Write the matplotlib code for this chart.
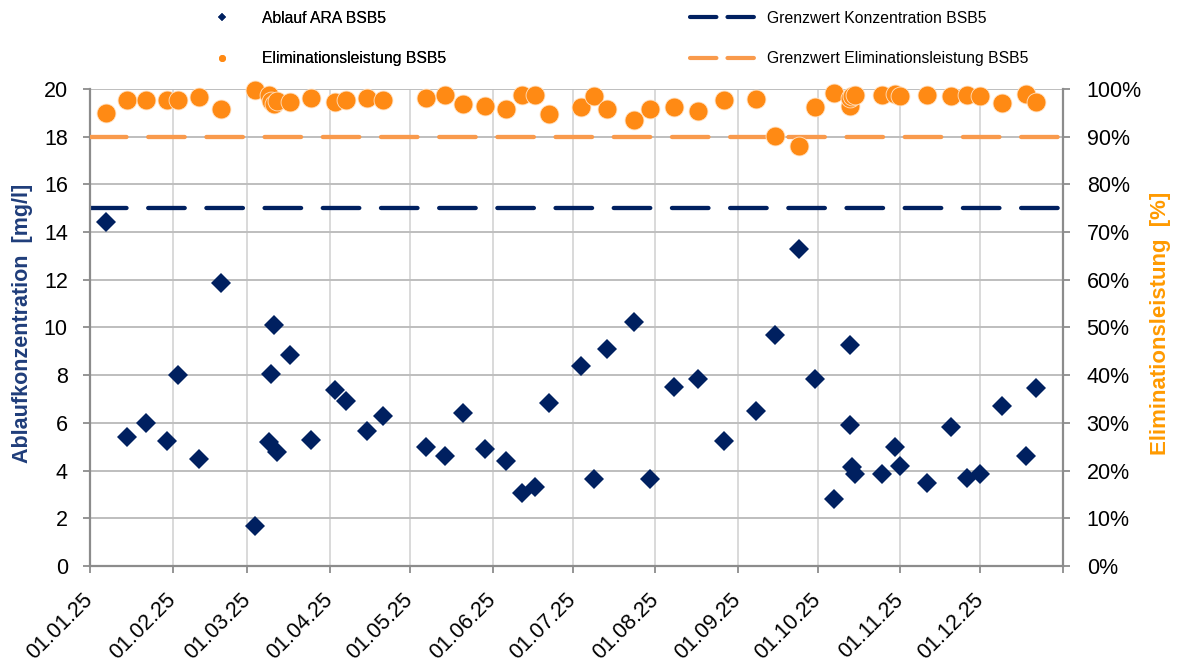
import matplotlib
matplotlib.use("Agg")
import matplotlib.pyplot as plt
import matplotlib.transforms as mtransforms
from matplotlib.lines import Line2D
import pandas as pd

plt.rcParams["font.family"] = ["Liberation Sans", "DejaVu Sans"]
plt.rcParams["lines.scale_dashes"] = False

# Probenahmetage 2025
sample_dates = [
    "2025-01-07", "2025-01-15", "2025-01-22", "2025-01-30", "2025-02-03",
    "2025-02-11", "2025-02-19", "2025-03-04", "2025-03-09", "2025-03-10",
    "2025-03-11", "2025-03-12", "2025-03-17", "2025-03-25", "2025-04-03",
    "2025-04-07", "2025-04-15", "2025-04-21", "2025-05-07", "2025-05-14",
    "2025-05-21", "2025-05-29", "2025-06-06", "2025-06-12", "2025-06-17",
    "2025-06-22", "2025-07-04", "2025-07-09", "2025-07-14", "2025-07-24",
    "2025-07-30", "2025-08-08", "2025-08-17", "2025-08-27", "2025-09-08",
    "2025-09-15", "2025-09-24", "2025-09-30", "2025-10-07", "2025-10-13",
    "2025-10-13", "2025-10-14", "2025-10-15", "2025-10-25", "2025-10-30",
    "2025-11-01", "2025-11-11", "2025-11-20", "2025-11-26", "2025-12-01",
    "2025-12-09", "2025-12-18", "2025-12-22",
]

# Ablaufkonzentration BSB5 [mg/l]
ablauf_bsb5 = [
    14.4, 5.4, 6.0, 5.25, 8.0,
    4.5, 11.85, 1.7, 5.2, 8.05,
    10.1, 4.8, 8.85, 5.3, 7.4,
    6.9, 5.65, 6.3, 5.0, 4.6,
    6.4, 4.9, 4.4, 3.05, 3.3,
    6.85, 8.4, 3.65, 9.1, 10.25,
    3.65, 7.5, 7.85, 5.25, 6.5,
    9.7, 13.3, 7.85, 2.8, 9.25,
    5.9, 4.15, 3.85, 3.85, 5.0,
    4.2, 3.5, 5.85, 3.7, 3.85,
    6.7, 4.6, 7.45,
]

# Eliminationsleistung BSB5 [%]
elimination_bsb5 = [
    95.0, 97.7, 97.7, 97.7, 97.7,
    98.3, 95.8, 99.8, 98.8, 97.4,
    96.8, 97.5, 97.3, 98.0, 97.3,
    97.7, 98.0, 97.7, 98.0, 98.7,
    96.8, 96.4, 95.8, 98.7, 98.7,
    94.7, 96.2, 98.4, 95.7, 93.4,
    95.7, 96.2, 95.4, 97.7, 97.8,
    90.1, 88.1, 96.2, 99.1, 96.4,
    98.0, 98.6, 98.8, 98.7, 98.9,
    98.4, 98.7, 98.4, 98.7, 98.4,
    97.1, 98.9, 97.3,
]

grenzwert_konz = 15.0
grenzwert_elim = 90.0

navy = "#002060"
orange = "#FF8A14"
orange_light = "#F99A4C"
axis_grey = "#8C8C8C"

dates = pd.to_datetime(sample_dates)
x_start = pd.Timestamp("2025-01-01")
x_end = pd.Timestamp("2026-01-01")
month_ticks = pd.date_range(x_start, x_end, freq="MS")
month_labels = [d.strftime("%d.%m.%y") for d in month_ticks[:-1]] + [""]

fig = plt.figure(figsize=(11.78, 6.66), dpi=100)
ax = fig.add_axes([0.0764, 0.150, 0.8260, 0.7166])
ax2 = ax.twinx()

# left axis: concentration
ax.set_xlim(x_start, x_end)
ax.set_ylim(0, 20)
ax.set_yticks(range(0, 21, 2))
ax.set_xticks(month_ticks)
ax.set_xticklabels(month_labels, rotation=45, ha="right", va="center",
                   rotation_mode="anchor", fontsize=15.5)
shift = mtransforms.ScaledTranslation(5 / 100, 0, fig.dpi_scale_trans)
for lbl in ax.get_xticklabels():
    lbl.set_transform(lbl.get_transform() + shift)

ax.grid(axis="x", color="#D9D9D9", lw=1.4)
ax.grid(axis="y", color="#BEBEBE", lw=1.4)
ax.set_axisbelow(True)

ax.tick_params(axis="y", labelsize=15.5, length=5, width=1.3, color=axis_grey, pad=11)
ax.tick_params(axis="x", length=5, width=1.3, color=axis_grey, pad=17)
for side in ["top", "right"]:
    ax.spines[side].set_visible(False)
for side in ["left", "bottom"]:
    ax.spines[side].set_color(axis_grey)
    ax.spines[side].set_linewidth(1.6)

ax.axhline(grenzwert_konz, color=navy, lw=3.1, dashes=(26.3, 15.6),
           dash_capstyle="round", zorder=2)
ax.plot(dates, ablauf_bsb5, linestyle="none", marker="D", ms=10.3,
        color=navy, mew=0, zorder=3, clip_on=False)

# right axis: elimination
ax2.set_ylim(0, 100)
ax2.set_yticks(range(0, 101, 10))
ax2.set_yticklabels([f"{v}%" for v in range(0, 101, 10)])
ax2.tick_params(axis="y", labelsize=15.5, length=5, width=1.3, color=axis_grey, pad=12)
for side in ["top", "left", "bottom"]:
    ax2.spines[side].set_visible(False)
ax2.spines["right"].set_color(axis_grey)
ax2.spines["right"].set_linewidth(1.6)

ax2.axhline(grenzwert_elim, color=orange_light, lw=3.1, dashes=(26.3, 15.6),
            dash_capstyle="round", zorder=2)
ax2.plot(dates, elimination_bsb5, linestyle="none", marker="o", ms=13.6,
         color=orange, mec="#FFE2C4", mew=0.6, zorder=3, clip_on=False)

# axis titles
fig.text(0.0195, 0.515, "Ablaufkonzentration  [mg/l]", rotation=90,
         ha="center", va="center", fontsize=15.5, fontweight="bold", color="#1F3D7A")
fig.text(0.985, 0.515, "Eliminationsleistung  [%]", rotation=90,
         ha="center", va="center", fontsize=16, fontweight="bold", color="#FF9A00")

# legend
h_ablauf = Line2D([], [], linestyle="none", marker="D", ms=4.5, color=navy, mew=0)
h_elim = Line2D([], [], linestyle="none", marker="o", ms=5, color=orange, mew=0)
h_gw_konz = Line2D([], [], color=navy, lw=3, dashes=(19, 8), dash_capstyle="round")
h_gw_elim = Line2D([], [], color=orange_light, lw=3, dashes=(19, 8), dash_capstyle="round")

leg1 = fig.legend([h_ablauf, h_elim], ["Ablauf ARA BSB5", "Eliminationsleistung BSB5"],
                  loc="upper left", bbox_to_anchor=(206 / 1178, 0.9835),
                  frameon=False, fontsize=11.3, borderpad=0, borderaxespad=0,
                  handlelength=2, handletextpad=1.55, labelspacing=1.6)
leg2 = fig.legend([h_gw_konz, h_gw_elim],
                  ["Grenzwert Konzentration BSB5", "Grenzwert Eliminationsleistung BSB5"],
                  loc="upper left", bbox_to_anchor=(690 / 1178, 0.9835),
                  frameon=False, fontsize=11.3, borderpad=0, borderaxespad=0,
                  handlelength=4.5, handletextpad=0.4, labelspacing=1.6)
fig.add_artist(leg1)

fig.savefig("out.png", dpi=100)
